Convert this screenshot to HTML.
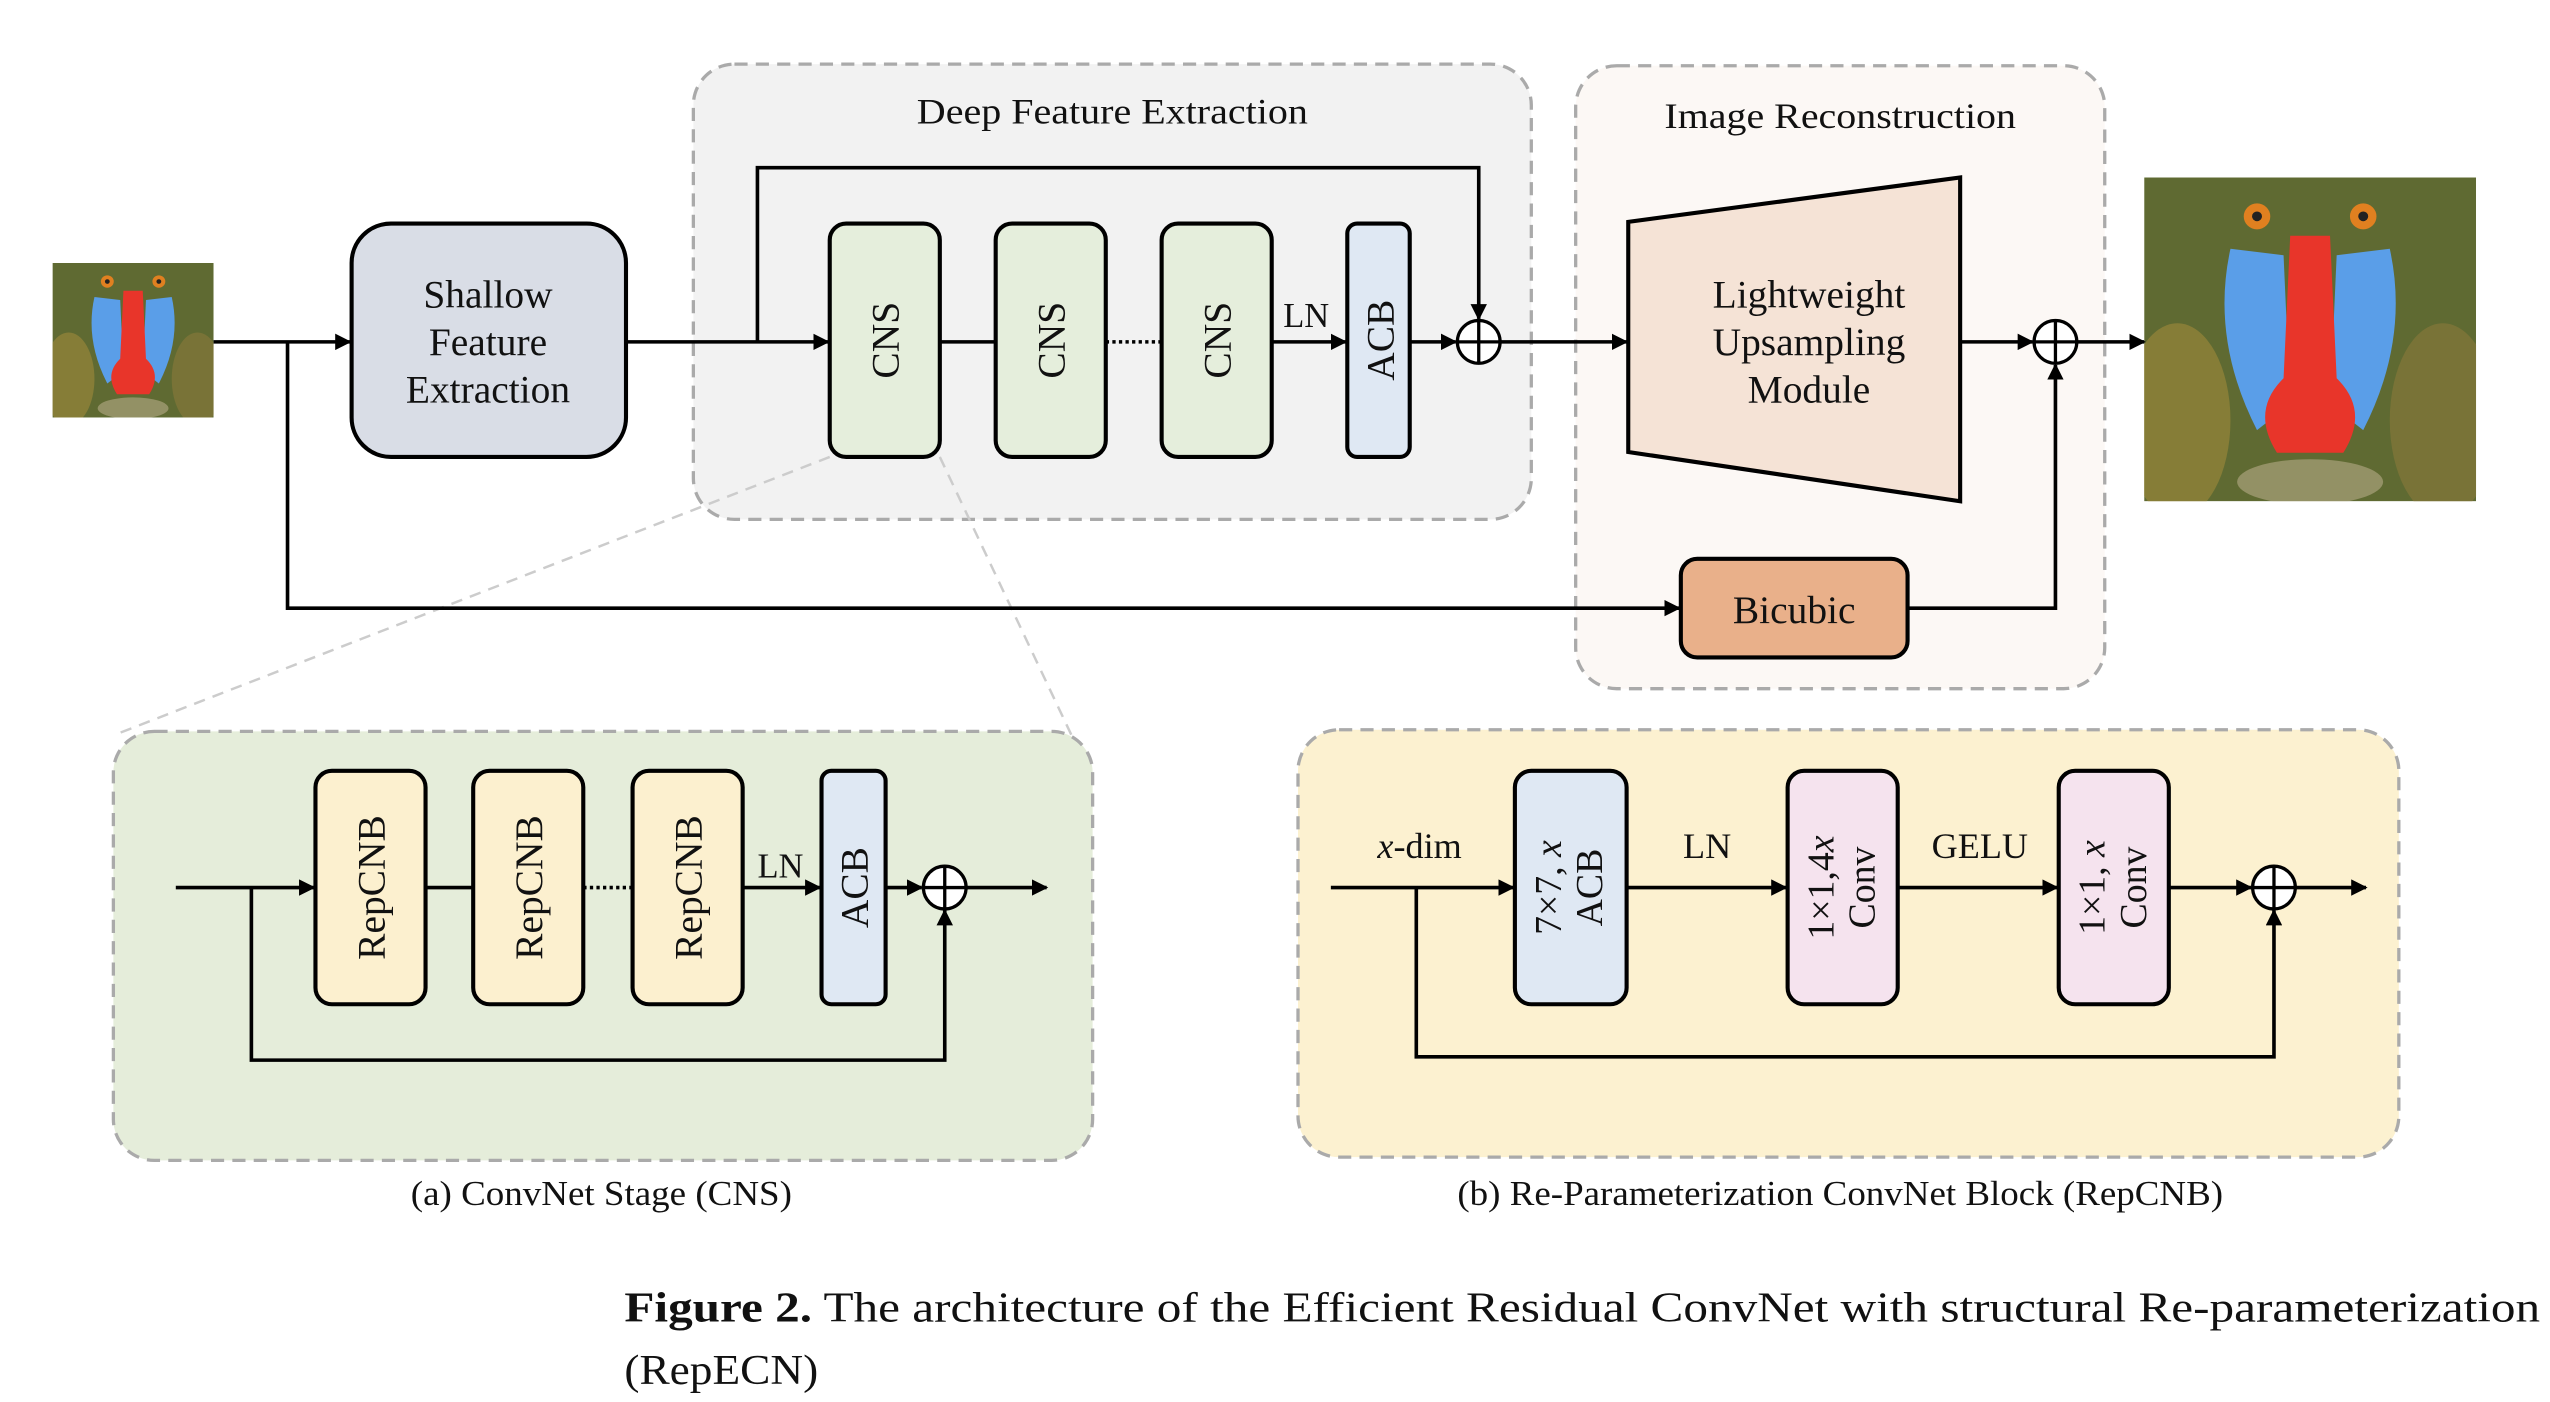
<!DOCTYPE html>
<html><head><meta charset="utf-8"><style>
html,body{margin:0;padding:0;background:#fff;}
svg{display:block;}
text{font-family:"Liberation Serif",serif;fill:#111;}
</style></head><body>
<svg width="2550" height="1402" viewBox="0 0 1552 853" preserveAspectRatio="none" xmlns="http://www.w3.org/2000/svg">
<defs>
<marker id="ah" markerWidth="10" markerHeight="10" refX="9" refY="5" orient="auto" markerUnits="userSpaceOnUse">
<path d="M0,0 L10,5 L0,10 z" fill="#000"/></marker>
<clipPath id="clipm"><rect x="0" y="0" width="100" height="100"/></clipPath>
<g id="mandrill" clip-path="url(#clipm)">
<rect x="0" y="0" width="100" height="100" fill="#5f6a32"/>
<ellipse cx="10" cy="75" rx="16" ry="30" fill="#a08a3a" opacity="0.6"/>
<ellipse cx="90" cy="75" rx="16" ry="30" fill="#8a7a3a" opacity="0.6"/>
<path d="M26,22 Q20,50 34,78 L44,70 L42,24 z" fill="#5a9ee8"/>
<path d="M74,22 Q80,50 66,78 L56,70 L58,24 z" fill="#5a9ee8"/>
<path d="M44,18 L56,18 L58,62 Q68,72 60,85 L40,85 Q32,72 42,62 z" fill="#e8352a"/>
<ellipse cx="50" cy="94" rx="22" ry="7" fill="#c8b898" opacity="0.5"/>
<circle cx="34" cy="12" r="4" fill="#e08020"/><circle cx="66" cy="12" r="4" fill="#e08020"/>
<circle cx="34" cy="12" r="1.5" fill="#222"/><circle cx="66" cy="12" r="1.5" fill="#222"/>
</g>
</defs>

<g transform="translate(32,160) scale(0.98,0.94)"><use href="#mandrill"/></g>
<g transform="translate(1305,108) scale(2.02,1.97)"><use href="#mandrill"/></g>

<rect x="422" y="39" width="510" height="277" rx="25" fill="#f2f2f2" stroke="#aaa" stroke-width="2" stroke-dasharray="8,5"/>
<text x="558" y="75" font-size="22" textLength="238" lengthAdjust="spacingAndGlyphs">Deep Feature Extraction</text>
<rect x="959" y="40" width="322" height="379" rx="25" fill="#fcf8f5" stroke="#aaa" stroke-width="2" stroke-dasharray="8,5"/>
<text x="1013" y="78" font-size="22" textLength="214" lengthAdjust="spacingAndGlyphs">Image Reconstruction</text>

<line x1="505" y1="278" x2="70" y2="447" stroke="#ccc" stroke-width="1.5" stroke-dasharray="7,5"/>
<line x1="572" y1="278" x2="652" y2="447" stroke="#ccc" stroke-width="1.5" stroke-dasharray="7,5"/>

<g stroke="#000" stroke-width="2.2" fill="none">
<line x1="130" y1="208" x2="213" y2="208" marker-end="url(#ah)"/>
<polyline points="175,208 175,370 1022,370" marker-end="url(#ah)"/>
<line x1="381" y1="208" x2="504" y2="208" marker-end="url(#ah)"/>
<polyline points="461,208 461,102 900,102 900,194" marker-end="url(#ah)"/>
<line x1="572" y1="208" x2="606" y2="208"/>
<line x1="673" y1="208" x2="707" y2="208" stroke-dasharray="2,2"/>
<line x1="774" y1="208" x2="819" y2="208" marker-end="url(#ah)"/>
<line x1="858" y1="208" x2="886" y2="208" marker-end="url(#ah)"/>
<line x1="913" y1="208" x2="990" y2="208" marker-end="url(#ah)"/>
<line x1="1193" y1="208" x2="1237" y2="208" marker-end="url(#ah)"/>
<line x1="1264" y1="208" x2="1305" y2="208" marker-end="url(#ah)"/>
<polyline points="1161,370 1251,370 1251,222" marker-end="url(#ah)"/>
</g>

<rect x="214" y="136" width="167" height="142" rx="24" fill="#d9dde6" stroke="#000" stroke-width="2.5"/>
<text font-size="24" text-anchor="middle"><tspan x="297" y="187">Shallow</tspan><tspan x="297" y="216">Feature</tspan><tspan x="297" y="245">Extraction</tspan></text>

<g stroke="#000" stroke-width="2.5">
<rect x="505" y="136" width="67" height="142" rx="10" fill="#e5eedc"/>
<rect x="606" y="136" width="67" height="142" rx="10" fill="#e5eedc"/>
<rect x="707" y="136" width="67" height="142" rx="10" fill="#e5eedc"/>
<rect x="820" y="136" width="38" height="142" rx="6" fill="#dfe8f3"/>
</g>
<g font-size="24" text-anchor="middle">
<text transform="translate(547,207) rotate(-90)">CNS</text>
<text transform="translate(648,207) rotate(-90)">CNS</text>
<text transform="translate(749,207) rotate(-90)">CNS</text>
<text transform="translate(848,207) rotate(-90)">ACB</text>
</g>
<text x="795" y="199" font-size="21" text-anchor="middle">LN</text>
<circle cx="900" cy="208" r="13" fill="#fff" stroke="#000" stroke-width="2"/>
<path d="M887,208 H913 M900,195 V221" stroke="#000" stroke-width="2"/>

<polygon points="991,135 1193,108 1193,305 991,275" fill="#f5e3d6" stroke="#000" stroke-width="2.5"/>
<text font-size="24" text-anchor="middle"><tspan x="1101" y="187">Lightweight</tspan><tspan x="1101" y="216">Upsampling</tspan><tspan x="1101" y="245">Module</tspan></text>
<circle cx="1251" cy="208" r="13" fill="#fff" stroke="#000" stroke-width="2"/>
<path d="M1238,208 H1264 M1251,195 V221" stroke="#000" stroke-width="2"/>
<rect x="1023" y="340" width="138" height="60" rx="10" fill="#e9b08a" stroke="#000" stroke-width="2.5"/>
<text x="1092" y="379" font-size="24" text-anchor="middle">Bicubic</text>

<rect x="69" y="445" width="596" height="261" rx="25" fill="#e5edda" stroke="#aaa" stroke-width="2" stroke-dasharray="8,5"/>
<g stroke="#000" stroke-width="2.2" fill="none">
<line x1="107" y1="540" x2="191" y2="540" marker-end="url(#ah)"/>
<polyline points="153,540 153,645 575,645 575,554" marker-end="url(#ah)"/>
<line x1="259" y1="540" x2="288" y2="540"/>
<line x1="355" y1="540" x2="385" y2="540" stroke-dasharray="2,2"/>
<line x1="452" y1="540" x2="499" y2="540" marker-end="url(#ah)"/>
<line x1="539" y1="540" x2="561" y2="540" marker-end="url(#ah)"/>
<line x1="588" y1="540" x2="637" y2="540" marker-end="url(#ah)"/>
</g>
<g stroke="#000" stroke-width="2.5">
<rect x="192" y="469" width="67" height="142" rx="10" fill="#fcf0cf"/>
<rect x="288" y="469" width="67" height="142" rx="10" fill="#fcf0cf"/>
<rect x="385" y="469" width="67" height="142" rx="10" fill="#fcf0cf"/>
<rect x="500" y="469" width="39" height="142" rx="6" fill="#dfe8f3"/>
</g>
<g font-size="24" text-anchor="middle">
<text transform="translate(234,540) rotate(-90)">RepCNB</text>
<text transform="translate(330,540) rotate(-90)">RepCNB</text>
<text transform="translate(427,540) rotate(-90)">RepCNB</text>
<text transform="translate(528,540) rotate(-90)">ACB</text>
</g>
<text x="475" y="534" font-size="21" text-anchor="middle">LN</text>
<circle cx="575" cy="540" r="13" fill="#fff" stroke="#000" stroke-width="2"/>
<path d="M562,540 H588 M575,527 V553" stroke="#000" stroke-width="2"/>
<text x="250" y="733" font-size="21" textLength="232" lengthAdjust="spacingAndGlyphs">(a) ConvNet Stage (CNS)</text>

<rect x="790" y="444" width="670" height="260" rx="25" fill="#fcf1d0" stroke="#aaa" stroke-width="2" stroke-dasharray="8,5"/>
<g stroke="#000" stroke-width="2.2" fill="none">
<line x1="810" y1="540" x2="921" y2="540" marker-end="url(#ah)"/>
<polyline points="862,540 862,643 1384,643 1384,554" marker-end="url(#ah)"/>
<line x1="990" y1="540" x2="1087" y2="540" marker-end="url(#ah)"/>
<line x1="1155" y1="540" x2="1252" y2="540" marker-end="url(#ah)"/>
<line x1="1320" y1="540" x2="1370" y2="540" marker-end="url(#ah)"/>
<line x1="1397" y1="540" x2="1440" y2="540" marker-end="url(#ah)"/>
</g>
<g stroke="#000" stroke-width="2.5">
<rect x="922" y="469" width="68" height="142" rx="10" fill="#dfe8f3"/>
<rect x="1088" y="469" width="67" height="142" rx="10" fill="#f5e3ee"/>
<rect x="1253" y="469" width="67" height="142" rx="10" fill="#f5e3ee"/>
</g>
<g font-size="23" text-anchor="middle">
<text transform="translate(950,540) rotate(-90)">7×7, <tspan font-style="italic">x</tspan></text>
<text transform="translate(975,540) rotate(-90)">ACB</text>
<text transform="translate(1116,540) rotate(-90)">1×1,4<tspan font-style="italic">x</tspan></text>
<text transform="translate(1141,540) rotate(-90)">Conv</text>
<text transform="translate(1281,540) rotate(-90)">1×1, <tspan font-style="italic">x</tspan></text>
<text transform="translate(1306,540) rotate(-90)">Conv</text>
</g>
<text x="864" y="522" font-size="22" text-anchor="middle"><tspan font-style="italic">x</tspan>-dim</text>
<text x="1039" y="522" font-size="22" text-anchor="middle">LN</text>
<text x="1205" y="522" font-size="22" text-anchor="middle">GELU</text>
<circle cx="1384" cy="540" r="13" fill="#fff" stroke="#000" stroke-width="2"/>
<path d="M1371,540 H1397 M1384,527 V553" stroke="#000" stroke-width="2"/>
<text x="887" y="733" font-size="21" textLength="466" lengthAdjust="spacingAndGlyphs">(b) Re-Parameterization ConvNet Block (RepCNB)</text>

<text x="380" y="804" font-size="26" textLength="1166" lengthAdjust="spacingAndGlyphs"><tspan font-weight="bold">Figure 2.</tspan> The architecture of the Efficient Residual ConvNet with structural Re-parameterization</text>
<text x="380" y="842" font-size="26" textLength="118" lengthAdjust="spacingAndGlyphs">(RepECN)</text>
</svg>
</body></html>
